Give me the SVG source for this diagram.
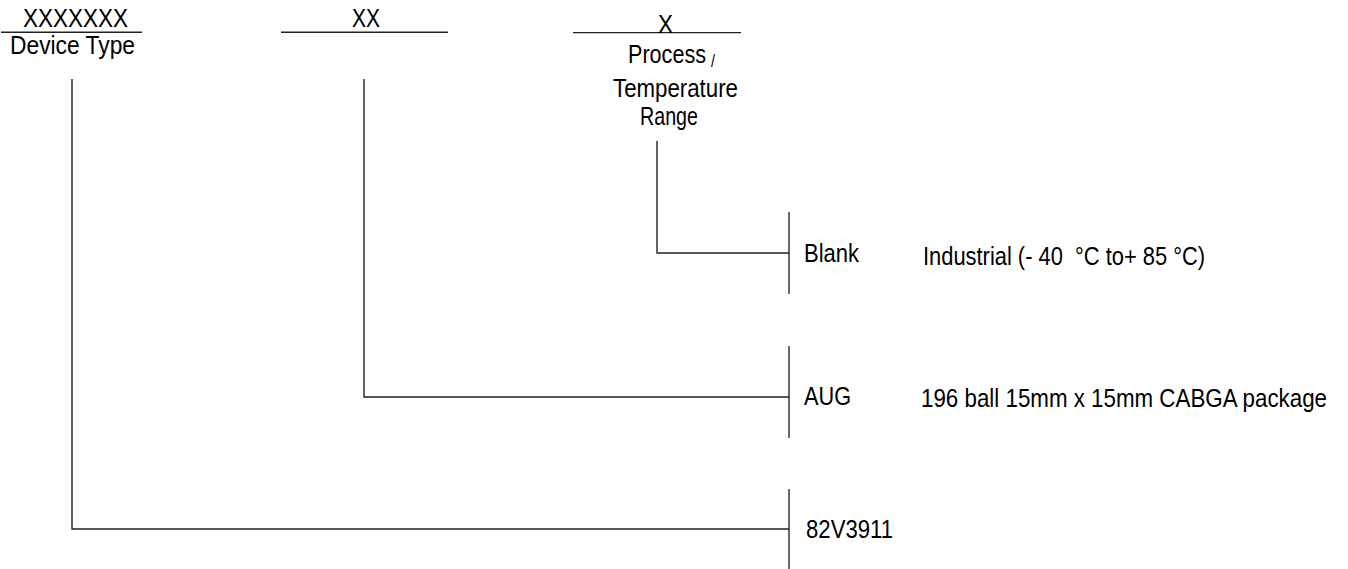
<svg xmlns="http://www.w3.org/2000/svg" width="1348" height="569" viewBox="0 0 1348 569">
<style>
text{font-family:"Liberation Sans",Arial,sans-serif;font-size:26px;fill:#000}
.ln{stroke:#222;stroke-width:1.4;fill:none}
.bar{stroke:#444;stroke-width:1.6;fill:none}
</style>
<rect width="1348" height="569" fill="#fff"/>
<g id="field-device-type">
<line class="ln" x1="1" y1="32.3" x2="142" y2="32.3"/>
<text x="23" y="27" textLength="105" lengthAdjust="spacingAndGlyphs">XXXXXXX</text>
<text x="10" y="54" textLength="125" lengthAdjust="spacingAndGlyphs">Device Type</text>
</g>
<g id="field-package">
<line class="ln" x1="281" y1="32.3" x2="448" y2="32.3"/>
<text x="352" y="27" textLength="28" lengthAdjust="spacingAndGlyphs">XX</text>
</g>
<g id="field-temperature">
<line class="ln" x1="573" y1="32.6" x2="741" y2="32.6"/>
<text x="658" y="33" textLength="15" lengthAdjust="spacingAndGlyphs">X</text>
<text x="628" y="63" textLength="78" lengthAdjust="spacingAndGlyphs">Process</text>
<text x="711" y="67" style="font-size:18px" textLength="4" lengthAdjust="spacingAndGlyphs">/</text>
<text x="613" y="97" textLength="125" lengthAdjust="spacingAndGlyphs">Temperature</text>
<text x="640" y="125" textLength="58" lengthAdjust="spacingAndGlyphs">Range</text>
</g>
<g id="option-blank">
<line class="bar" x1="789" y1="212" x2="789" y2="294"/>
<text x="804" y="262" textLength="55" lengthAdjust="spacingAndGlyphs">Blank</text>
<text x="923" y="265" textLength="282" lengthAdjust="spacingAndGlyphs" xml:space="preserve">Industrial (- 40  °C to+ 85 °C)</text>
</g>
<g id="option-aug">
<line class="bar" x1="789" y1="346" x2="789" y2="438"/>
<text x="804" y="405" textLength="47" lengthAdjust="spacingAndGlyphs">AUG</text>
<text x="921" y="407" textLength="406" lengthAdjust="spacingAndGlyphs">196 ball 15mm x 15mm CABGA package</text>
</g>
<g id="option-82v3911">
<line class="bar" x1="789" y1="489" x2="789" y2="569"/>
<text x="806" y="538" textLength="87" lengthAdjust="spacingAndGlyphs">82V3911</text>
</g>
<g id="connectors">
<polyline class="ln" points="657,141 657,253 789,253"/>
<polyline class="ln" points="364,79 364,397 789,397"/>
<polyline class="ln" points="72,79 72,529 789,529"/>
</g>
</svg>
